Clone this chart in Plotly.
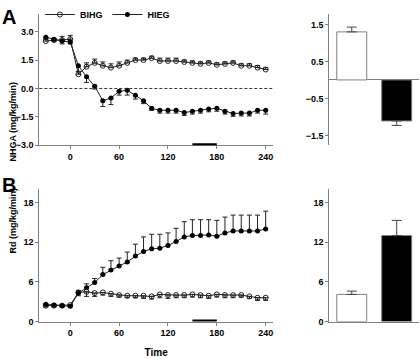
import plotly.graph_objects as go

time = [-30, -20, -10, 0, 10, 20, 30, 40, 50, 60, 70, 80, 90, 100, 110, 120,
        130, 140, 150, 160, 170, 180, 190, 200, 210, 220, 230, 240]

# Panel A: NHGA
nhga_bihg = [2.5, 2.55, 2.55, 2.6, 0.75, 1.15, 1.35, 1.2, 1.1, 1.2, 1.35, 1.5, 1.5, 1.6,
             1.45, 1.45, 1.45, 1.4, 1.35, 1.3, 1.35, 1.25, 1.3, 1.35, 1.2, 1.2, 1.1, 1.0]
nhga_bihg_err = [0.1, 0.1, 0.2, 0.2, 0.15, 0.2, 0.2, 0.2, 0.2, 0.2, 0.15, 0.1, 0.1, 0.1,
                 0.15, 0.15, 0.15, 0.1, 0.1, 0.1, 0.1, 0.1, 0.1, 0.1, 0.1, 0.1, 0.1, 0.1]
nhga_hieg = [2.7, 2.6, 2.5, 2.45, 1.2, 0.62, 0.12, -0.65, -0.5, -0.15, -0.1, -0.36, -0.65, -1.05,
             -1.15, -1.15, -1.15, -1.27, -1.2, -1.15, -1.08, -1.05, -1.2, -1.32, -1.3, -1.3, -1.15, -1.15]
nhga_hieg_err = [0.05, 0.1, 0.15, 0.1, 0.3, 0.3, 0.15, 0.3, 0.35, 0.2, 0.25, 0.2, 0.15, 0.1,
                 0.15, 0.15, 0.15, 0.15, 0.15, 0.15, 0.15, 0.15, 0.15, 0.15, 0.15, 0.15, 0.15, 0.2]

# Panel B: Rd
rd_bihg = [2.4, 2.4, 2.4, 2.5, 4.4, 4.5, 4.3, 4.4, 4.2, 4.0, 3.9, 3.9, 3.9, 3.8,
           4.1, 4.0, 4.0, 4.0, 4.1, 4.0, 3.9, 4.1, 4.0, 4.0, 4.0, 3.8, 3.6, 3.6]
rd_bihg_err = [0.2, 0.2, 0.2, 0.2, 0.5, 0.7, 0.5, 0.4, 0.4, 0.3, 0.3, 0.3, 0.4, 0.4,
               0.5, 0.5, 0.4, 0.4, 0.4, 0.4, 0.4, 0.4, 0.4, 0.4, 0.3, 0.3, 0.4, 0.4]
rd_hieg = [2.6, 2.5, 2.4, 2.3, 4.3, 5.1, 5.9, 7.1, 7.8, 8.4, 9.0, 9.9, 10.6, 11.0,
           11.1, 11.5, 12.1, 12.8, 13.0, 13.0, 13.1, 12.9, 13.4, 13.7, 13.7, 13.7, 13.7, 14.0]
rd_hieg_err = [0.1, 0.1, 0.1, 0.1, 0.4, 0.6, 0.6, 1.1, 1.4, 1.2, 1.5, 1.8, 2.2, 2.2,
               2.1, 1.9, 2.0, 2.3, 2.4, 2.4, 2.3, 2.4, 2.4, 2.4, 2.4, 2.4, 2.4, 2.7]

# Bar panels
groups = ["BIHG", "HIEG"]
bar_nhga = [1.30, -1.11]
bar_nhga_err = [0.13, 0.12]
bar_rd = [4.1, 13.0]
bar_rd_err = [0.5, 2.3]

clamp_period = [150, 180]

fig = go.Figure()
LINE = "#222222"
AX = "#7f7f7f"
FONT = dict(family="Liberation Sans, Arial, sans-serif", size=9, color="black")
zeros = [0] * len(time)


def err(arr, up=True):
    if up:
        return dict(type="data", array=arr, arrayminus=zeros, symmetric=False,
                    color=LINE, thickness=1, width=2.5)
    return dict(type="data", array=zeros, arrayminus=arr, symmetric=False,
                color=LINE, thickness=1, width=2.5)


# Panel A lines
fig.add_trace(go.Scatter(x=time, y=nhga_bihg, mode="lines+markers", name="BIHG",
                         line=dict(color=LINE, width=1),
                         marker=dict(symbol="circle-open", size=5, color=LINE, line=dict(width=1)),
                         error_y=err(nhga_bihg_err, True), xaxis="x", yaxis="y"))
fig.add_trace(go.Scatter(x=time, y=nhga_hieg, mode="lines+markers", name="HIEG",
                         line=dict(color=LINE, width=1),
                         marker=dict(symbol="circle", size=5, color="black"),
                         error_y=err(nhga_hieg_err, False), xaxis="x", yaxis="y"))
# Panel B lines
fig.add_trace(go.Scatter(x=time, y=rd_bihg, mode="lines+markers", name="BIHG", showlegend=False,
                         line=dict(color=LINE, width=1),
                         marker=dict(symbol="circle-open", size=5, color=LINE, line=dict(width=1)),
                         error_y=err(rd_bihg_err, False), xaxis="x2", yaxis="y2"))
fig.add_trace(go.Scatter(x=time, y=rd_hieg, mode="lines+markers", name="HIEG", showlegend=False,
                         line=dict(color=LINE, width=1),
                         marker=dict(symbol="circle", size=5, color="black"),
                         error_y=err(rd_hieg_err, True), xaxis="x2", yaxis="y2"))

# Bars
bar_colors = ["white", "black"]
for xa, ya, vals, errs in [("x3", "y3", bar_nhga, bar_nhga_err), ("x4", "y4", bar_rd, bar_rd_err)]:
    ups = [e if v >= 0 else 0 for v, e in zip(vals, errs)]
    downs = [e if v < 0 else 0 for v, e in zip(vals, errs)]
    fig.add_trace(go.Bar(x=groups, y=vals, showlegend=False,
                         marker=dict(color=bar_colors, line=dict(color=AX, width=1)),
                         error_y=dict(type="data", array=ups, arrayminus=downs, symmetric=False,
                                      color="#444444", thickness=1, width=5),
                         xaxis=xa, yaxis=ya))

LX = [0.0936, 0.650]
RX = [0.784, 0.998]
AY = [0.595, 0.972]
BY = [0.0902, 0.469]

common_y = dict(showline=True, linecolor=AX, linewidth=1, ticks="outside", ticklen=3,
                tickcolor=AX, showgrid=False, zeroline=False,
                tickfont=dict(family=FONT["family"], size=9, color="black", weight="bold"))
common_x = dict(showline=True, linecolor=AX, linewidth=1, ticks="outside", ticklen=3,
                tickcolor=AX, showgrid=False, zeroline=False,
                tickfont=dict(family=FONT["family"], size=9, color="black", weight="bold"))

fig.update_layout(
    width=420, height=358, margin=dict(l=0, r=0, t=0, b=0),
    paper_bgcolor="white", plot_bgcolor="white", font=FONT,
    bargap=1/3,
    xaxis=dict(domain=LX, range=[-38, 249], tickvals=[0, 60, 120, 180, 240], anchor="y", **common_x),
    yaxis=dict(domain=AY, range=[-3, 3.94], tickvals=[3, 1.5, 0, -1.5, -3], tickformat=".1f",
               anchor="x", **common_y),
    xaxis2=dict(domain=LX, range=[-38, 249], tickvals=[0, 60, 120, 180, 240], anchor="y2",
                title=dict(text="<b>Time</b>", font=dict(size=10), standoff=13), **common_x),
    yaxis2=dict(domain=BY, range=[0, 20], tickvals=[0, 6, 12, 18], anchor="x2", **common_y),
    xaxis3=dict(domain=RX, range=[-0.5, 1.5], anchor="y3", showline=False, showticklabels=False,
                ticks="", showgrid=False, zeroline=False),
    yaxis3=dict(domain=AY, range=[-1.77, 1.79], tickvals=[1.5, 0.5, -0.5, -1.5], tickformat=".1f",
                anchor="x3", **{**common_y, "zeroline": True, "zerolinecolor": AX, "zerolinewidth": 1}),
    xaxis4=dict(domain=RX, range=[-0.5, 1.5], anchor="y4", showline=True, linecolor=AX,
                showticklabels=False, ticks="", showgrid=False, zeroline=False),
    yaxis4=dict(domain=BY, range=[0, 20], tickvals=[0, 6, 12, 18], anchor="x4", **common_y),
    legend=dict(orientation="h", x=0.095, y=1.012, yanchor="top", xanchor="left",
                font=dict(size=9, weight="bold"), itemwidth=30, tracegroupgap=0,
                bgcolor="rgba(0,0,0,0)"),
)

# dashed zero line in A
fig.add_shape(type="line", xref="x domain", yref="y", x0=0, x1=1, y0=0, y1=0,
              line=dict(color="#333333", width=1, dash="3px,2px"))
# clamp period bars
fig.add_shape(type="line", xref="x", yref="y", x0=clamp_period[0], x1=clamp_period[1], y0=-3, y1=-3,
              line=dict(color="black", width=4))
fig.add_shape(type="line", xref="x2", yref="y2", x0=clamp_period[0], x1=clamp_period[1], y0=0, y1=0,
              line=dict(color="black", width=4))

# panel letters and y titles
fig.add_annotation(x=0.0, y=1.0, xref="paper", yref="paper", text="<b>A</b>", showarrow=False,
                   xanchor="left", yanchor="top", font=dict(size=20, color="black"))
fig.add_annotation(x=0.0, y=0.52, xref="paper", yref="paper", text="<b>B</b>", showarrow=False,
                   xanchor="left", yanchor="top", font=dict(size=20, color="black"))
fig.add_annotation(x=6/420, y=(AY[0] + AY[1]) / 2, xref="paper", yref="paper",
                   text="<b>NHGA (mg/kg/min)</b>", textangle=-90, showarrow=False,
                   font=dict(size=9, color="black"))
fig.add_annotation(x=6/420, y=(BY[0] + BY[1]) / 2, xref="paper", yref="paper",
                   text="<b>Rd (mg/kg/min)</b>", textangle=-90, showarrow=False,
                   font=dict(size=9, color="black"))

fig.write_html("out.html", config={"displayModeBar": False})

# remove default page margins so the 420x358 figure fills the window exactly
with open("out.html", "r", encoding="utf-8") as f:
    html = f.read()
html = html.replace("<head>", "<head><style>html,body{margin:0;padding:0;overflow:hidden;}</style>", 1)
with open("out.html", "w", encoding="utf-8") as f:
    f.write(html)
